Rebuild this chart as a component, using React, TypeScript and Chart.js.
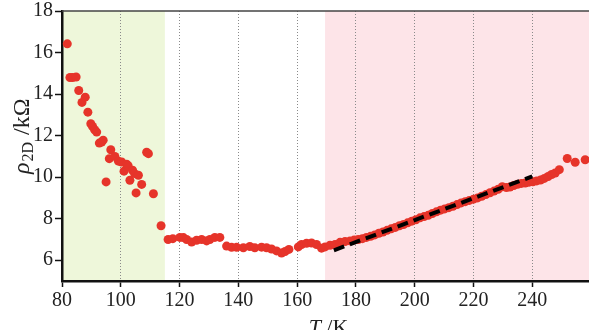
import { useEffect, useRef } from "react";
import { Chart, registerables } from "chart.js";
Chart.register(...registerables);

// Low-T region (green band)
const lowT = [81.8, 82.7, 83.6, 84.8, 85.7, 86.8, 87.9, 88.8, 89.8, 90.4, 91.1, 91.8, 92.7, 93.5, 94.0, 95.0, 96.1, 96.6, 98.0, 99.2, 100.3, 101.1, 102.0, 102.5, 103.1, 104.0, 104.7, 105.2, 106.0, 107.1, 108.8, 109.4, 111.1, 113.7];
const lowRho = [16.42, 14.8, 14.8, 14.82, 14.17, 13.6, 13.85, 13.13, 12.57, 12.44, 12.28, 12.17, 11.64, 11.69, 11.78, 9.77, 10.89, 11.32, 11.0, 10.77, 10.73, 10.29, 10.62, 10.55, 9.85, 10.33, 10.17, 9.24, 10.09, 9.65, 11.2, 11.13, 9.2, 7.66];

// Middle (white) region
const midT = [116.1, 117.7, 120.1, 121.3, 122.4, 124.1, 125.8, 127.5, 129.2, 130.3, 132.0, 133.7, 136.0, 137.7, 139.4, 141.7, 143.9, 145.6, 147.9, 149.6, 151.3, 153.0, 154.7, 155.9, 157.2, 160.4, 161.5, 163.2, 164.9, 166.6, 168.3];
const midRho = [7.0, 7.04, 7.1, 7.09, 7.0, 6.88, 6.96, 7.0, 6.93, 7.0, 7.1, 7.1, 6.68, 6.62, 6.62, 6.6, 6.66, 6.6, 6.63, 6.6, 6.54, 6.45, 6.35, 6.42, 6.52, 6.64, 6.76, 6.82, 6.83, 6.76, 6.58];

// High-T region (pink band)
const highT = [169.5, 171.2, 172.9, 174.6, 176.3, 178.0, 179.4, 180.8, 182.2, 183.6, 185.0, 186.4, 187.8, 189.2, 190.6, 192.0, 193.4, 194.8, 196.2, 197.6, 199.0, 200.4, 201.8, 203.2, 204.6, 206.0, 207.4, 208.8, 210.2, 211.6, 213.0, 214.4, 215.8, 217.2, 218.6, 220.0, 221.4, 222.8, 224.2, 225.6, 227.0, 228.4, 229.8, 231.2, 232.4, 233.7, 235.0, 236.3, 237.6, 238.9, 240.2, 241.5, 242.8, 244.1, 245.4, 246.6, 247.8, 249.2, 251.9, 254.6, 258.0];
const highRho = [6.64, 6.72, 6.76, 6.86, 6.9, 6.93, 6.97, 7.0, 7.04, 7.1, 7.15, 7.22, 7.3, 7.36, 7.44, 7.51, 7.58, 7.66, 7.72, 7.8, 7.88, 7.95, 8.04, 8.1, 8.16, 8.25, 8.33, 8.41, 8.47, 8.53, 8.6, 8.68, 8.76, 8.82, 8.88, 8.94, 9.0, 9.08, 9.16, 9.25, 9.33, 9.42, 9.54, 9.5, 9.52, 9.6, 9.66, 9.7, 9.72, 9.76, 9.78, 9.82, 9.86, 9.94, 10.03, 10.13, 10.2, 10.36, 10.9, 10.72, 10.84];

// Linear fit (dashed)
const fitT = [172.5, 240.0];
const fitRho = [6.48, 10.04];

// Axes
const xRange = [80, 259.3];
const yRange = [5, 18];
const xTickValues = [80, 100, 120, 140, 160, 180, 200, 220, 240];
const yTickValues = [6, 8, 10, 12, 14, 16, 18];

// Shaded bands
const greenBand = [80, 115];
const pinkBand = [169.5, 259.3];

const SERIF = '"Liberation Serif", "DejaVu Serif", serif';

export default function App() {
  const ref = useRef<HTMLCanvasElement | null>(null);

  useEffect(() => {
    const canvas = ref.current;
    if (!canvas) return;
    const pts = [
      ...lowT.map((t, i) => ({ x: t, y: lowRho[i] })),
      ...midT.map((t, i) => ({ x: t, y: midRho[i] })),
      ...highT.map((t, i) => ({ x: t, y: highRho[i] })),
    ];
    const fit = fitT.map((t, i) => ({ x: t, y: fitRho[i] }));

    const bgPlugin = {
      id: "bands",
      beforeDraw(chart: any) {
        const { ctx, chartArea, scales } = chart;
        ctx.save();
        ctx.fillStyle = "#ffffff";
        ctx.fillRect(0, 0, chart.width, chart.height);
        const xs = scales.x;
        ctx.fillStyle = "#eef7da";
        const g0 = xs.getPixelForValue(greenBand[0]);
        const g1 = xs.getPixelForValue(greenBand[1]);
        ctx.fillRect(g0, chartArea.top, g1 - g0, chartArea.bottom - chartArea.top);
        ctx.fillStyle = "#fde4e8";
        const p0 = xs.getPixelForValue(pinkBand[0]);
        const p1 = xs.getPixelForValue(pinkBand[1]);
        ctx.fillRect(p0, chartArea.top, p1 - p0, chartArea.bottom - chartArea.top);
        ctx.restore();
      },
      afterDraw(chart: any) {
        const { ctx, chartArea } = chart;
        ctx.save();
        // top border
        ctx.strokeStyle = "#444";
        ctx.lineWidth = 1.5;
        ctx.beginPath();
        ctx.moveTo(chartArea.left, chartArea.top);
        ctx.lineTo(chartArea.right, chartArea.top);
        ctx.stroke();
        ctx.fillStyle = "#222";
        // x title
        ctx.textBaseline = "alphabetic";
        ctx.font = `italic 22px ${SERIF}`;
        const tW = ctx.measureText("T").width;
        ctx.font = `22px ${SERIF}`;
        const rW = ctx.measureText(" /K").width;
        const cx = (chartArea.left + chartArea.right) / 2 + 3;
        const sx = cx - (tW + rW) / 2;
        ctx.font = `italic 22px ${SERIF}`;
        ctx.fillText("T", sx, 334);
        ctx.font = `22px ${SERIF}`;
        ctx.fillText(" /K", sx + tW, 334);
        // y title
        ctx.translate(29, 174);
        ctx.rotate(-Math.PI / 2);
        ctx.font = `italic 24px ${SERIF}`;
        ctx.fillText("ρ", 0, 0);
        const rhoW = ctx.measureText("ρ").width;
        ctx.font = `16px ${SERIF}`;
        ctx.fillText("2D", rhoW + 1, 4);
        const subW = ctx.measureText("2D").width;
        ctx.font = `24px ${SERIF}`;
        ctx.fillText(" /kΩ", rhoW + 2 + subW, 0);
        ctx.restore();
      },
    };

    const chart = new Chart(canvas, {
      type: "scatter",
      data: {
        datasets: [
          {
            type: "line",
            data: fit,
            borderColor: "#000000",
            borderWidth: 4,
            borderDash: [11, 6],
            pointRadius: 0,
            fill: false,
            order: 0,
          } as any,
          {
            data: pts,
            backgroundColor: "#e6342a",
            borderWidth: 0,
            pointRadius: 4.5,
            order: 1,
          },
        ],
      },
      options: {
        responsive: false,
        animation: false,
        layout: { autoPadding: false, padding: { top: 11, right: 0, left: 0, bottom: 0 } },
        plugins: { legend: { display: false }, tooltip: { enabled: false } },
        scales: {
          x: {
            type: "linear",
            min: xRange[0],
            max: xRange[1],
            afterBuildTicks: (s: any) => {
              s.ticks = xTickValues.map((v) => ({ value: v }));
            },
            afterFit: (s: any) => {
              s.height = 49;
              s.paddingLeft = 0;
              s.paddingRight = 0;
            },
            ticks: {
              font: { family: SERIF, size: 20 },
              color: "#222",
              padding: 2,
              maxRotation: 0,
              autoSkip: false,
            },
            grid: {
              drawOnChartArea: true,
              color: (c: any) => (c.tick && c.tick.value === xRange[0] ? "rgba(0,0,0,0)" : "#8a8a8a"),
              lineWidth: 1,
              tickLength: 6,
              tickColor: "#111",
              tickWidth: 1.5,
              tickBorderDash: [],
            },
            border: { display: true, color: "#111", width: 2.5, dash: [1, 2] },
          },
          y: {
            type: "linear",
            min: yRange[0],
            max: yRange[1],
            afterBuildTicks: (s: any) => {
              s.ticks = yTickValues.map((v) => ({ value: v }));
            },
            afterFit: (s: any) => {
              s.width = 62;
              s.paddingTop = 0;
              s.paddingBottom = 0;
            },
            ticks: {
              font: { family: SERIF, size: 20 },
              color: "#222",
              padding: 2,
              autoSkip: false,
            },
            grid: {
              drawOnChartArea: false,
              tickLength: 7,
              tickColor: "#111",
              tickWidth: 1.5,
            },
            border: { display: true, color: "#111", width: 2.5 },
          },
        },
      },
      plugins: [bgPlugin],
    } as any);
    return () => chart.destroy();
  }, []);

  return (
    <div style={{ position: "fixed", left: 0, top: 0, width: 589, height: 330 }}>
      <canvas ref={ref} width={589} height={330} style={{ width: 589, height: 330, display: "block" }} />
    </div>
  );
}
